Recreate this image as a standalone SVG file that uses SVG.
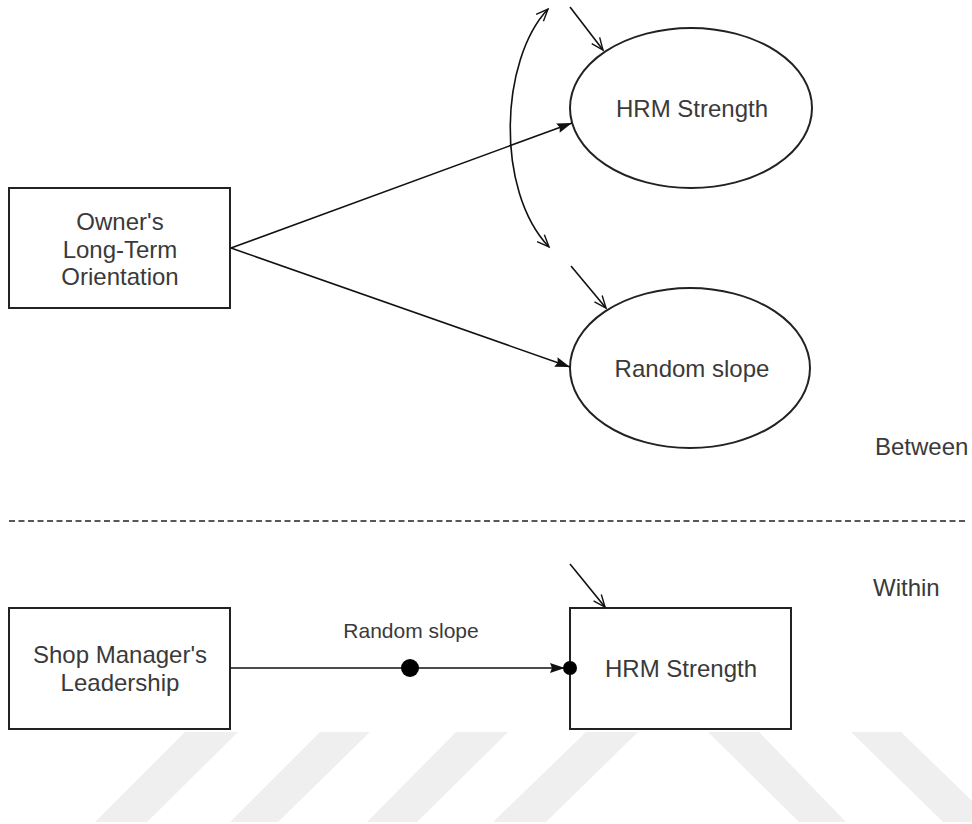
<svg xmlns="http://www.w3.org/2000/svg" width="972" height="824" viewBox="0 0 972 824">
  <style>
    .node { fill: #ffffff; stroke: #222222; stroke-width: 2; }
    .label { font-family: "Liberation Sans", Arial, sans-serif; font-size: 24px; fill: #3a3a3a; text-anchor: middle; }
    .small { font-family: "Liberation Sans", Arial, sans-serif; font-size: 21px; fill: #3a3a3a; text-anchor: middle; }
    .side { font-family: "Liberation Sans", Arial, sans-serif; font-size: 24px; fill: #3a3a3a; }
    .edge { fill: none; stroke: #111111; stroke-width: 1.6; }
    .stripe { fill: #efefef; }
  </style>
  <defs>
    <marker id="block" markerUnits="userSpaceOnUse" markerWidth="16" markerHeight="12" refX="15" refY="5" orient="auto" overflow="visible">
      <path d="M0,0 L15,5 L0,10 L2,5 z" fill="#111111"/>
    </marker>
    <marker id="open" markerUnits="userSpaceOnUse" markerWidth="14" markerHeight="12" refX="12" refY="5" orient="auto-start-reverse" overflow="visible">
      <path d="M0,0 L12,5 L0,10" fill="none" stroke="#111111" stroke-width="1.4"/>
    </marker>
  </defs>

  <rect width="972" height="824" fill="#ffffff"/>

  <!-- faint background stripes along the bottom edge -->
  <g id="stripes">
    <polygon class="stripe" points="185,732 238,732 147,822 95,822"/>
    <polygon class="stripe" points="320,732 370,732 278,822 230,822"/>
    <polygon class="stripe" points="456,732 508,732 417,822 367,822"/>
    <polygon class="stripe" points="586,732 638,732 546,822 493,822"/>
    <polygon class="stripe" points="708,732 759,732 846,822 799,822"/>
    <polygon class="stripe" points="851,732 901,732 994,822 943,822"/>
  </g>

  <!-- level separator -->
  <line x1="9" y1="521" x2="966" y2="521" stroke="#222222" stroke-width="1.5" stroke-dasharray="6 3.5"/>
  <text class="side" x="875" y="455">Between</text>
  <text class="side" x="873" y="596">Within</text>

  <g id="owner-lto">
    <rect class="node" x="9" y="188" width="221" height="120"/>
    <text class="label" x="120" y="230">Owner's</text>
    <text class="label" x="120" y="258">Long-Term</text>
    <text class="label" x="120" y="285">Orientation</text>
  </g>

  <g id="hrm-between">
    <ellipse class="node" cx="691" cy="108" rx="121" ry="80"/>
    <text class="label" x="692" y="117">HRM Strength</text>
  </g>

  <g id="random-slope">
    <ellipse class="node" cx="690" cy="368" rx="120" ry="80"/>
    <text class="label" x="692" y="377">Random slope</text>
  </g>

  <g id="shop-manager">
    <rect class="node" x="9" y="608" width="221" height="121"/>
    <text class="label" x="120" y="663">Shop Manager's</text>
    <text class="label" x="120" y="691">Leadership</text>
  </g>

  <g id="hrm-within">
    <rect class="node" x="570" y="608" width="221" height="121"/>
    <text class="label" x="681" y="677">HRM Strength</text>
  </g>

  <g id="connectors">
    <path class="edge" d="M231,248 L572,123" marker-end="url(#block)"/>
    <path class="edge" d="M231,248 L570,367" marker-end="url(#block)"/>
    <path class="edge" d="M548,9 C500,60 495,190 549,247" marker-start="url(#open)" marker-end="url(#open)"/>
    <path class="edge" d="M570,7 L603,50" marker-end="url(#open)"/>
    <path class="edge" d="M571,266 L606,308" marker-end="url(#open)"/>
    <path class="edge" d="M570,564 L605,607" marker-end="url(#open)"/>
    <path class="edge" d="M230,668 L565,668" marker-end="url(#block)"/>
    <circle cx="410" cy="668" r="9" fill="#000000"/>
    <circle cx="570" cy="668" r="7" fill="#000000"/>
    <text class="small" x="411" y="638">Random slope</text>
  </g>
</svg>
